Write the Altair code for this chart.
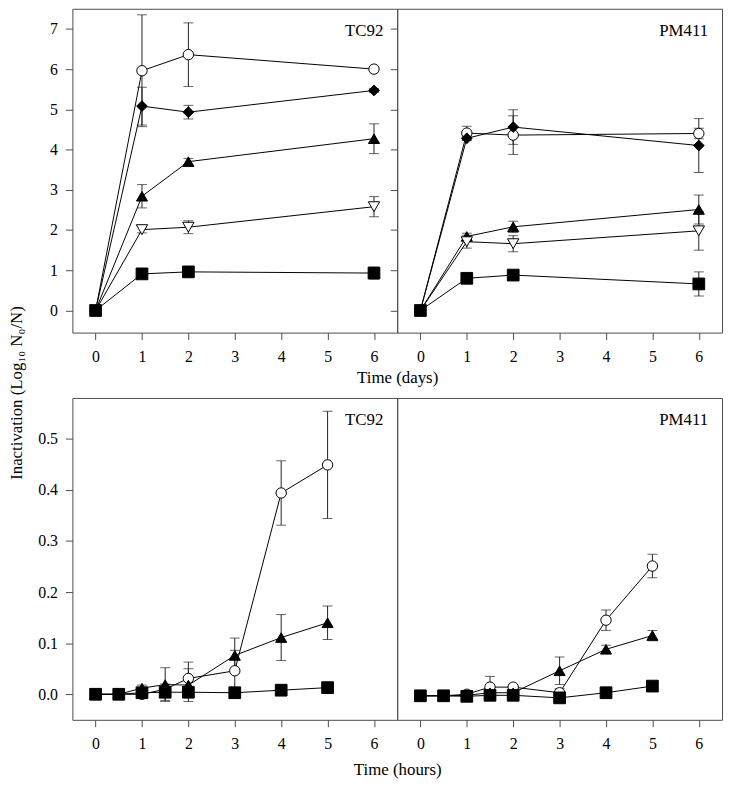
import altair as alt
import pandas as pd

# ---------------- data ----------------
series = ["S1", "S2", "S3", "S4", "S5"]
series_shapes = ["circle", "diamond", "triangle-up", "triangle-down", "square"]
series_fill = ["white", "black", "black", "white", "black"]
series_size = [110, 140, 110, 110, 72]

days = [0, 1, 2, 6]
hours = [0, 0.5, 1, 1.5, 2, 3, 4, 5]

# TC92, days
tc92_d_s1 = [0, 5.96, 6.36, 6.00]
tc92_d_s1_err = [0, 1.39, 0.79, 0.05]
tc92_d_s2 = [0, 5.08, 4.93, 5.47]
tc92_d_s2_err = [0, 0.47, 0.17, 0.05]
tc92_d_s3 = [0, 2.84, 3.70, 4.27]
tc92_d_s3_err = [0, 0.29, 0.08, 0.37]
tc92_d_s4 = [0, 2.01, 2.07, 2.58]
tc92_d_s4_err = [0, 0.08, 0.16, 0.25]
tc92_d_s5 = [0, 0.91, 0.96, 0.93]
tc92_d_s5_err = [0, 0.06, 0.12, 0.15]

# PM411, days
pm411_d_s1 = [0, 4.41, 4.36, 4.40]
pm411_d_s1_err = [0, 0.17, 0.48, 0.13]
pm411_d_s2 = [0, 4.28, 4.56, 4.10]
pm411_d_s2_err = [0, 0.05, 0.43, 0.67]
pm411_d_s3 = [0, 1.84, 2.08, 2.51]
pm411_d_s3_err = [0, 0.08, 0.14, 0.36]
pm411_d_s4 = [0, 1.71, 1.66, 1.98]
pm411_d_s4_err = [0, 0.16, 0.20, 0.48]
pm411_d_s5 = [0, 0.80, 0.88, 0.66]
pm411_d_s5_err = [0, 0.05, 0.05, 0.30]

# TC92, hours (circle, filled triangle, filled square)
tc92_h_s1 = [0, 0.0, 0.0, 0.010, 0.031, 0.046, 0.394, 0.449]
tc92_h_s1_err = [0.003, 0.010, 0.005, 0.0, 0.032, 0.040, 0.063, 0.105]
tc92_h_s3 = [0, 0.0, 0.012, 0.019, 0.018, 0.076, 0.111, 0.140]
tc92_h_s3_err = [0.003, 0.010, 0.006, 0.033, 0.032, 0.034, 0.045, 0.033]
tc92_h_s5 = [0, 0.0, 0.003, 0.004, 0.004, 0.003, 0.008, 0.013]
tc92_h_s5_err = [0.003, 0.003, 0.003, 0.016, 0.005, 0.005, 0.004, 0.004]

# PM411, hours
pm411_h_s1 = [-0.003, -0.003, 0.0, 0.014, 0.014, 0.003, 0.145, 0.251]
pm411_h_s1_err = [0.003, 0.003, 0.005, 0.021, 0.005, 0.008, 0.020, 0.023]
pm411_h_s3 = [-0.003, -0.003, -0.002, 0.003, 0.003, 0.046, 0.088, 0.115]
pm411_h_s3_err = [0.002, 0.002, 0.004, 0.004, 0.004, 0.027, 0.008, 0.010]
pm411_h_s5 = [-0.003, -0.003, -0.004, -0.002, -0.002, -0.007, 0.003, 0.016]
pm411_h_s5_err = [0.003, 0.003, 0.004, 0.003, 0.003, 0.004, 0.004, 0.004]

x_ticks = [0, 1, 2, 3, 4, 5, 6]
y_ticks_days = [0, 1, 2, 3, 4, 5, 6, 7]
y_ticks_hours = [0.0, 0.1, 0.2, 0.3, 0.4, 0.5]

FONT = "Liberation Serif"
FRAME = "#4d4d4d"
W = 328
H_TOP = 327
H_BOT = 325


def build(x, items):
    rows = []
    for name, ys, errs in items:
        for xi, yi, ei in zip(x, ys, errs):
            rows.append({"x": xi, "y": yi, "lo": yi - ei, "hi": yi + ei,
                         "err": ei, "series": name})
    return pd.DataFrame(rows)


df_tc92_d = build(days, [("S1", tc92_d_s1, tc92_d_s1_err), ("S2", tc92_d_s2, tc92_d_s2_err),
                         ("S3", tc92_d_s3, tc92_d_s3_err), ("S4", tc92_d_s4, tc92_d_s4_err),
                         ("S5", tc92_d_s5, tc92_d_s5_err)])
df_pm411_d = build(days, [("S1", pm411_d_s1, pm411_d_s1_err), ("S2", pm411_d_s2, pm411_d_s2_err),
                          ("S3", pm411_d_s3, pm411_d_s3_err), ("S4", pm411_d_s4, pm411_d_s4_err),
                          ("S5", pm411_d_s5, pm411_d_s5_err)])
df_tc92_h = build(hours, [("S1", tc92_h_s1, tc92_h_s1_err), ("S3", tc92_h_s3, tc92_h_s3_err),
                          ("S5", tc92_h_s5, tc92_h_s5_err)])
df_pm411_h = build(hours, [("S1", pm411_h_s1, pm411_h_s1_err), ("S3", pm411_h_s3, pm411_h_s3_err),
                           ("S5", pm411_h_s5, pm411_h_s5_err)])


def panel(df, label, height, ydomain, yticks, yfmt, ymode, xtitle=None, xtitle_y=45):
    common = dict(domain=False, grid=False, tickSize=7, tickColor=FRAME, tickWidth=1,
                  labelFont=FONT, labelFontSize=16, labelColor="black",
                  titleFont=FONT, titleFontSize=17, titleFontWeight="normal", titleColor="black")
    if xtitle:
        xaxis = alt.Axis(values=x_ticks, format="d", labelPadding=9, title=xtitle,
                         titleX=W, titleY=xtitle_y, titleAlign="center", titleBaseline="middle",
                         **common)
    else:
        xaxis = alt.Axis(values=x_ticks, format="d", labelPadding=9, title=None, **common)
    xscale = alt.Scale(domain=[-0.5, 6.5], nice=False, zero=False)
    yscale = alt.Scale(domain=ydomain, nice=False, zero=False)
    if ymode == "full":
        yaxis = alt.Axis(values=yticks, format=yfmt, labelPadding=8, title=None, **common)
    elif ymode == "ticks":
        yaxis = alt.Axis(values=yticks, labels=False, title=None, **common)
    else:
        yaxis = None

    def X(f="x"):
        return alt.X(f"{f}:Q", scale=xscale, axis=xaxis)

    def Y(f):
        return alt.Y(f"{f}:Q", scale=yscale, axis=yaxis)

    base = alt.Chart(df)
    errdf = base.transform_filter("datum.err > 0")
    rule = errdf.mark_rule(color="#222222", strokeWidth=1).encode(x=X(), y=Y("lo"), y2="hi:Q")
    cap_lo = errdf.mark_tick(color="#222222", orient="horizontal", size=10, thickness=1).encode(
        x=X(), y=Y("lo"))
    cap_hi = errdf.mark_tick(color="#222222", orient="horizontal", size=10, thickness=1).encode(
        x=X(), y=Y("hi"))
    line = base.mark_line(color="black", strokeWidth=1).encode(
        x=X(), y=Y("y"), detail="series:N", order="x:Q")
    pts = base.mark_point(filled=True, stroke="black", strokeWidth=1, opacity=1, fillOpacity=1).encode(
        x=X(), y=Y("y"),
        shape=alt.Shape("series:N", scale=alt.Scale(domain=series, range=series_shapes), legend=None),
        fill=alt.Fill("series:N", scale=alt.Scale(domain=series, range=series_fill), legend=None),
        size=alt.Size("series:N", scale=alt.Scale(domain=series, range=series_size), legend=None),
    )
    txt = alt.Chart(pd.DataFrame({"t": [label]})).mark_text(
        font=FONT, fontSize=17, align="right", baseline="middle", color="black").encode(
        text="t:N", x=alt.value(W - 14), y=alt.value(22))
    return alt.layer(rule, cap_lo, cap_hi, line, pts, txt).properties(width=W, height=height)


ytitle = "Inactivation (Log₁₀ N₀/N)"

tl = panel(df_tc92_d, "TC92", H_TOP, [-0.55, 7.5], y_ticks_days, "d", "full",
           xtitle="Time (days)", xtitle_y=45)
tr = panel(df_pm411_d, "PM411", H_TOP, [-0.55, 7.5], y_ticks_days, "d", "ticks")
bl = panel(df_tc92_h, "TC92", H_BOT, [-0.05, 0.58], y_ticks_hours, ".1f", "full",
           xtitle="Time (hours)", xtitle_y=50)
br = panel(df_pm411_h, "PM411", H_BOT, [-0.05, 0.58], y_ticks_hours, ".1f", "none")

top = alt.hconcat(tl, tr, spacing=0, bounds="flush")
bottom = alt.hconcat(bl, br, spacing=0, bounds="flush")

chart = alt.vconcat(top, bottom, spacing=11).properties(
    title=alt.Title(ytitle, orient="left", anchor="middle", font=FONT, fontSize=17,
                    fontWeight="normal", color="black", offset=11),
    padding={"left": 0, "top": -4, "right": 0, "bottom": 0},
).configure_view(
    stroke=FRAME, strokeWidth=1
)

chart.save("out.html", embed_options={"renderer": "svg", "actions": False})
